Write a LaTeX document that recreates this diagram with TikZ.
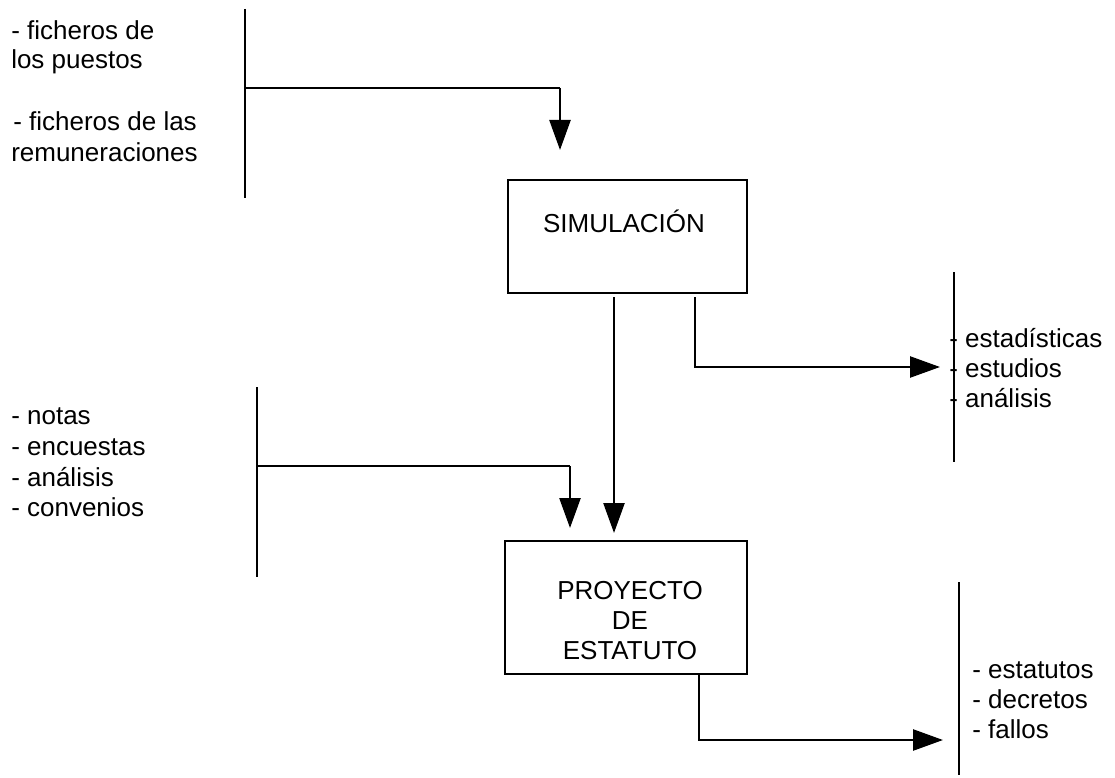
\documentclass[tikz,border=0pt]{standalone}
\usepackage{fontspec}
\setmainfont{Liberation Sans}
\usetikzlibrary{arrows.meta}
\begin{document}
\begin{tikzpicture}[x=1pt,y=-1pt,line width=2.5pt,
  lbl/.style={anchor=base west,inner sep=0pt,font=\fontsize{26}{30}\selectfont},
  ctext/.style={anchor=base,inner sep=0pt,font=\fontsize{26}{30}\selectfont},
  procbox/.style={draw,line width=2.7pt,inner sep=0pt},
  arr/.style={-{Triangle[length=30pt,width=21pt]}}]
\useasboundingbox (0,0) rectangle (1115,778);

% ---- input bar 1 ----
\coordinate (b1t) at (245,9);
\coordinate (b1b) at (245,198);
\coordinate (b1m) at (245,88);
\coordinate (a1c) at (560,88);
\coordinate (a1e) at (560,150);
\draw (b1t) -- (b1b);
\draw (b1m) -- (a1c);
\draw[arr] (a1c) -- (a1e);
\node[lbl] (t1) at (10,40) {- ficheros de};
\node[lbl] (t2) at (10,69) {los puestos};
\node[lbl] (t3) at (12,131) {- ficheros de las};
\node[lbl] (t4) at (10,161) {remuneraciones};

% ---- SIMULACION box ----
\node[procbox,minimum width=239pt,minimum height=113pt] (sim) at (627.5,236.5) {};
\node[ctext] (simt) at (624,232) {SIMULACIÓN};

% ---- output bar 1 ----
\coordinate (b2t) at (954,272);
\coordinate (b2b) at (954,462);
\draw (b2t) -- (b2b);
\coordinate (s1) at (695,297);
\coordinate (s1c) at (695,367);
\coordinate (s1e) at (940,367);
\draw[arr] (s1) -- (s1c) -- (s1e);
\node[lbl] (o1) at (948,347) {- estadísticas};
\node[lbl] (o2) at (948,377) {- estudios};
\node[lbl] (o3) at (948,407) {- análisis};

% ---- simulation to proyecto ----
\coordinate (s2) at (614,297);
\coordinate (s2e) at (614,533);
\draw[arr] (s2) -- (s2e);

% ---- input bar 2 ----
\coordinate (b3t) at (257,387);
\coordinate (b3b) at (257,577);
\coordinate (b3m) at (257,466);
\coordinate (a3c) at (570,466);
\coordinate (a3e) at (570,528);
\draw (b3t) -- (b3b);
\draw (b3m) -- (a3c);
\draw[arr] (a3c) -- (a3e);
\node[lbl] (n1) at (10,424) {- notas};
\node[lbl] (n2) at (10,455) {- encuestas};
\node[lbl] (n3) at (10,486) {- análisis};
\node[lbl] (n4) at (10,516) {- convenios};

% ---- PROYECTO box ----
\node[procbox,minimum width=242pt,minimum height=133pt] (pro) at (626,607.5) {};
\node[ctext] (p1) at (630,599) {PROYECTO};
\node[ctext] (p2) at (630,629) {DE};
\node[ctext] (p3) at (630,659) {ESTATUTO};

% ---- output bar 2 ----
\coordinate (b4t) at (959,582);
\coordinate (b4b) at (959,775);
\draw (b4t) -- (b4b);
\coordinate (q1) at (699,673);
\coordinate (q1c) at (699,740);
\coordinate (q1e) at (943,740);
\draw[arr] (q1) -- (q1c) -- (q1e);
\node[lbl] (r1) at (971,678) {- estatutos};
\node[lbl] (r2) at (971,708) {- decretos};
\node[lbl] (r3) at (971,738) {- fallos};
\end{tikzpicture}
\end{document}
